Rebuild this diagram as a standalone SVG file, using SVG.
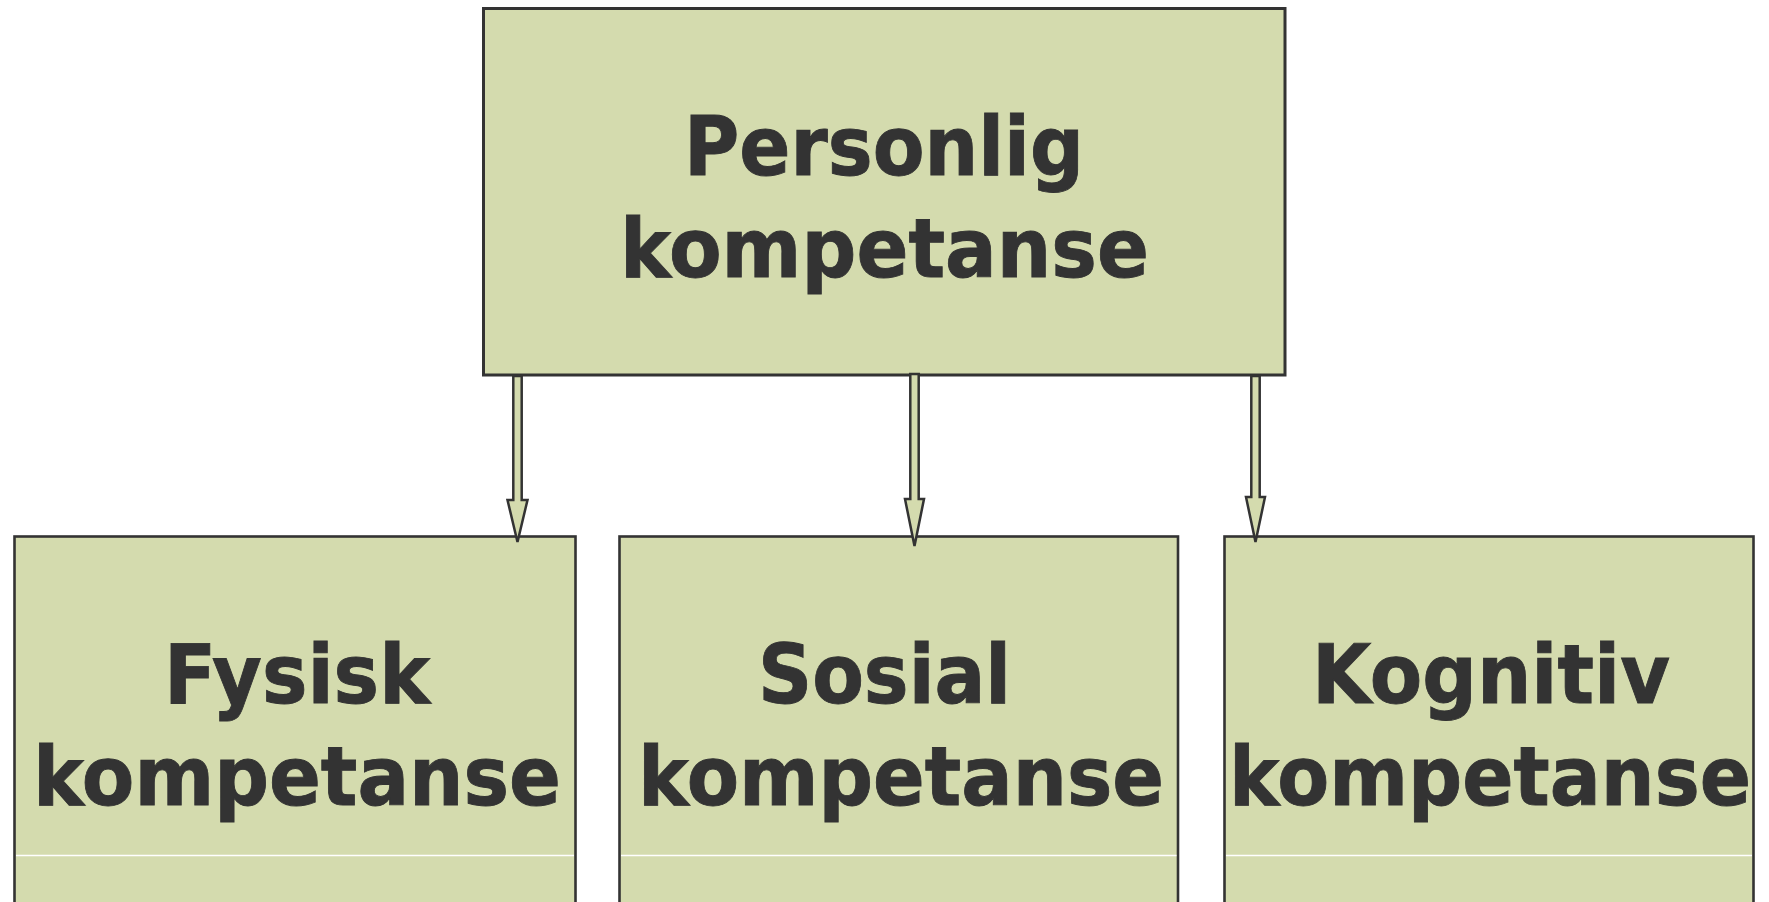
<svg xmlns="http://www.w3.org/2000/svg" width="1769" height="902" viewBox="0 0 1769 902">
<style>
.box{fill:#d4dbae;stroke:#333333;}
.top{stroke-width:3;}
.bot{stroke-width:2.6;}
.sep{stroke:#ffffff;stroke-width:1.3;}
.lbl{font-family:"DejaVu Sans","Liberation Sans",sans-serif;font-weight:bold;font-size:82px;fill:#333333;stroke:#333333;stroke-width:0.9;text-anchor:middle;}
.arr{fill:#d4dbae;stroke:#333333;stroke-width:2.5;stroke-linejoin:miter;}
</style>
<rect x="0" y="0" width="1769" height="902" fill="#ffffff"/>
<g id="node-personlig">
<rect class="box top" x="483.5" y="8.5" width="801.5" height="366.5"/>
<text class="lbl" x="884" y="175" textLength="400" lengthAdjust="spacingAndGlyphs">Personlig</text>
<text class="lbl" x="884.5" y="277" textLength="529" lengthAdjust="spacingAndGlyphs">kompetanse</text>
</g>
<g id="node-fysisk">
<rect class="box bot" x="14.5" y="536.5" width="561" height="400"/>
<line class="sep" x1="16" y1="855.5" x2="574" y2="855.5"/>
<text class="lbl" x="297" y="703" textLength="266" lengthAdjust="spacingAndGlyphs">Fysisk</text>
<text class="lbl" x="297" y="805" textLength="528" lengthAdjust="spacingAndGlyphs">kompetanse</text>
</g>
<g id="node-sosial">
<rect class="box bot" x="619.5" y="536.5" width="558.5" height="400"/>
<line class="sep" x1="621" y1="855.5" x2="1176.5" y2="855.5"/>
<text class="lbl" x="884.5" y="703" textLength="253" lengthAdjust="spacingAndGlyphs">Sosial</text>
<text class="lbl" x="901" y="805" textLength="526" lengthAdjust="spacingAndGlyphs">kompetanse</text>
</g>
<g id="node-kognitiv">
<rect class="box bot" x="1224.5" y="536.5" width="529" height="400"/>
<line class="sep" x1="1226" y1="855.5" x2="1752" y2="855.5"/>
<text class="lbl" x="1491" y="703" textLength="358" lengthAdjust="spacingAndGlyphs">Kognitiv</text>
<text class="lbl" x="1490" y="805" textLength="522" lengthAdjust="spacingAndGlyphs">kompetanse</text>
</g>
<g id="connectors">
<polygon class="arr" points="513.3,376 521.7,376 521.7,500 527.5,500 517.5,542 507.5,500 513.3,500"/>
<polygon class="arr" points="910.3,374 918.7,374 918.7,499 924,499 914.5,546 905,499 910.3,499"/>
<polygon class="arr" points="1251.3,376 1259.7,376 1259.7,497 1265,497 1255.5,542 1246,497 1251.3,497"/>
</g>
</svg>
